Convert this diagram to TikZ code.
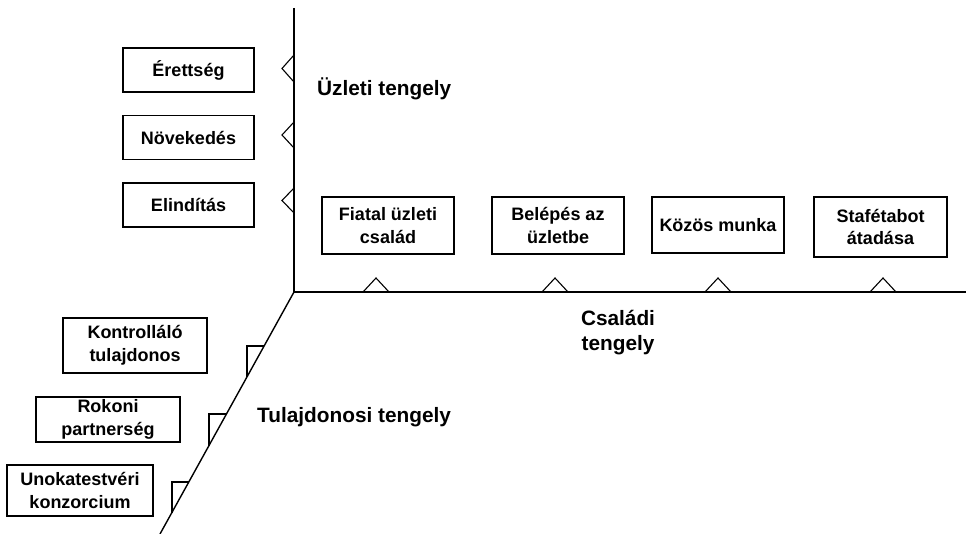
\documentclass[tikz,border=0pt]{standalone}
\usepackage{fontspec}
\setmainfont{Liberation Sans}
\begin{document}
\begin{tikzpicture}[x=1pt,y=-1pt,
  box/.style={draw, line width=1.2pt, inner sep=0pt, align=center,
    font=\fontsize{18}{22.5}\selectfont\bfseries},
  axisline/.style={line width=1.4pt},
  marker/.style={line width=1.1pt, line join=miter},
  axlabel/.style={inner sep=0pt, align=center,
    font=\fontsize{20.8}{25.5}\selectfont\bfseries}]
\useasboundingbox[fill=white] (0,0) rectangle (966,534);

% axes
\coordinate (O) at (294,292);
\coordinate (T) at (294,8);
\coordinate (R) at (966,292);
\coordinate (B) at (160,534);
\draw[axisline] (T) -- (O) -- (R);
\draw[axisline] (O) -- (B);

% business axis boxes
\node[box, minimum width=131pt, minimum height=44pt] (er)  at (188.5,70)    {Érettség};
\node[box, minimum width=131pt, minimum height=44pt] (nov) at (188.5,137.5) {Növekedés};
\node[box, minimum width=131pt, minimum height=44pt] (eli) at (188.5,205)   {Elindítás};

\draw[marker] (294,55)  -- (282,68.5)  -- (294,82);
\draw[marker] (294,122) -- (282,135)   -- (294,148);
\draw[marker] (294,188) -- (282,200.5) -- (294,213);

% family axis boxes
\node[box, minimum width=132pt, minimum height=57pt] (fia) at (388,225.5) {Fiatal üzleti\\család};
\node[box, minimum width=132pt, minimum height=57pt] (bel) at (558,225.5) {Belépés az\\üzletbe};
\node[box, minimum width=132pt, minimum height=56pt] (koz) at (718,225)   {Közös munka};
\node[box, minimum width=133pt, minimum height=60pt] (sta) at (880.5,227) {Stafétabot\\átadása};

\draw[marker] (363,292) -- (376,278) -- (389,292);
\draw[marker] (542,292) -- (555,278) -- (568,292);
\draw[marker] (705,292) -- (718,278) -- (731,292);
\draw[marker] (870,292) -- (883,278) -- (896,292);

% ownership axis boxes
\node[box, minimum width=144pt, minimum height=55pt] (kon) at (135,345.5) {Kontrolláló\\tulajdonos};
\node[box, minimum width=144pt, minimum height=45pt] (rok) at (108,419.5) {Rokoni\\partnerség};
\node[box, minimum width=146pt, minimum height=51pt] (uno) at (80,490.5)  {Unokatestvéri\\konzorcium};

\draw[marker] (264.1,346) -- (247,346) -- (247,376.9);
\draw[marker] (226.4,414) -- (209,414) -- (209,445.5);
\draw[marker] (188.8,482) -- (172,482) -- (172,512.5);

% axis labels
\node[axlabel, anchor=base west] (ul) at (317,96)  {Üzleti tengely};
\node[axlabel, anchor=center]    (cl) at (618,332.5) {Családi\\tengely};
\node[axlabel, anchor=base west] (tl) at (257,422) {Tulajdonosi tengely};
\end{tikzpicture}
\end{document}
